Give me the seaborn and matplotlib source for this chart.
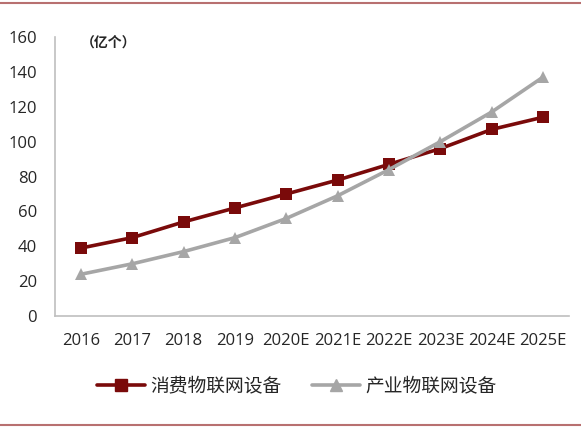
import matplotlib
matplotlib.use("Agg")
import matplotlib.pyplot as plt
import pandas as pd
import seaborn as sns

years = ["2016", "2017", "2018", "2019", "2020E", "2021E", "2022E", "2023E", "2024E", "2025E"]
consumer = [39, 45, 54, 62, 70, 78, 87, 96, 107, 114]
industry = [24, 30, 37, 45, 56, 69, 84, 100, 117, 137]
consumer_name = "消费物联网设备"
industry_name = "产业物联网设备"

sns.set_style("white")
plt.rcParams["font.family"] = ["Noto Sans CJK SC", "DejaVu Sans"]

df = pd.DataFrame({"year": years * 2,
                   "value": consumer + industry,
                   "series": [consumer_name] * len(years) + [industry_name] * len(years)})

fig = plt.figure(figsize=(5.81, 4.29), dpi=100)
ax = fig.add_axes([0.095, 0.263, 0.884, 0.651])

sns.lineplot(data=df, x="year", y="value", hue="series", style="series",
             palette={consumer_name: "#7a0a0a", industry_name: "#a6a6a6"},
             markers={consumer_name: "s", industry_name: "^"}, dashes=False,
             markersize=9, markeredgewidth=0, linewidth=2.6, ax=ax, legend=False)

ax.set_xlim(-0.5, len(years) - 0.5)
ax.set_ylim(0, 160)
ax.set_yticks(range(0, 161, 20))
ax.set_xticks(range(len(years)))
ax.set_xticklabels(years, family=["Open Sans", "DejaVu Sans"])
ax.set_xticks([i + 0.5 for i in range(-1, len(years))], minor=True)
ax.tick_params(axis="x", which="major", length=0, pad=12, labelsize=12)
ax.tick_params(axis="x", which="minor", direction="in", length=5, color="#bfbfbf")
ax.tick_params(axis="y", direction="in", length=5, color="#bfbfbf", pad=13, labelsize=12)
for lab in ax.get_yticklabels():
    lab.set_family(["Open Sans", "DejaVu Sans"])
ax.set_xlabel("")
ax.set_ylabel("")
for side in ["top", "right"]:
    ax.spines[side].set_visible(False)
for side in ["left", "bottom"]:
    ax.spines[side].set_color("#bfbfbf")
    ax.spines[side].set_linewidth(1.2)

ax.text(0.05, 0.98, "（亿个）", transform=ax.transAxes, fontsize=10,
        fontweight="bold", va="center", ha="left")

handles = [plt.Line2D([], [], color="#7a0a0a", marker="s", markersize=8, linewidth=2.6),
           plt.Line2D([], [], color="#a6a6a6", marker="^", markersize=8, linewidth=2.6)]
fig.legend(handles, [consumer_name, industry_name], loc="center", ncol=2,
           bbox_to_anchor=(0.511, 0.1), frameon=False, fontsize=13.5,
           handlelength=2.55, handletextpad=0.3, columnspacing=1.65)

fig.add_artist(plt.Line2D([0, 1], [0.993, 0.993], color="#b87070", linewidth=1.5))
fig.add_artist(plt.Line2D([0, 1], [0.009, 0.009], color="#b87070", linewidth=1.5))

fig.savefig("out.png", dpi=100)
